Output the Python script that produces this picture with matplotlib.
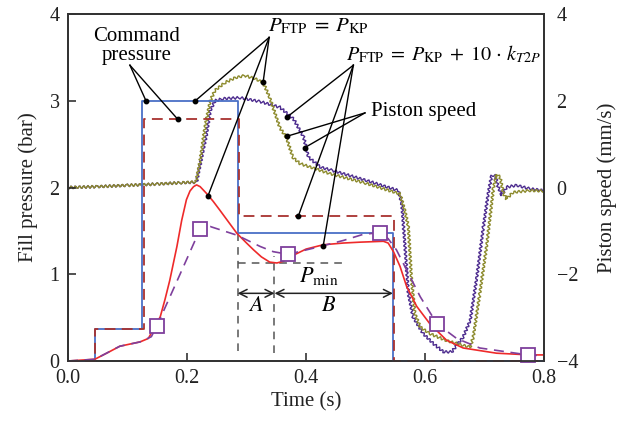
import matplotlib
matplotlib.use('Agg')
import matplotlib.pyplot as plt

# -*- FONT AND COLOUR SETTINGS -*-
plt.rcParams['font.family'] = ['Liberation Serif', 'DejaVu Serif']
plt.rcParams['mathtext.fontset'] = 'stix'
plt.rcParams['font.size'] = 14

ink = '#222222'
cmd_blue = '#4a6fc6'
cmd_red = '#a8322f'
fill_red = '#ee2a2a'
fill_purple = '#7e3f9c'
speed_olive = '#8c8a2c'
speed_purple = '#4c2b8e'
guide_grey = '#555555'

# -*- DATA -*-
# command pressure steps (bar)
cmd_kp_t = [0.0, 0.045, 0.125, 0.285, 0.546, 0.8]
cmd_kp_p = [0.0, 0.37, 3.00, 1.47, 0.0, 0.0]
cmd_k_t = [0.0, 0.045, 0.127, 0.287, 0.548, 0.8]
cmd_k_p = [0.0, 0.37, 2.79, 1.67, 0.0, 0.0]

# measured fill pressure, P_FTP = P_KP (bar)
fill_kp_t = [0.0, 0.045, 0.065, 0.087, 0.121, 0.135, 0.143, 0.155, 0.163, 0.171,
             0.183, 0.191, 0.199, 0.205, 0.211, 0.216, 0.222, 0.233, 0.244, 0.255,
             0.270, 0.284, 0.300, 0.312, 0.325, 0.339, 0.351, 0.362, 0.379, 0.400,
             0.429, 0.463, 0.491, 0.530, 0.538, 0.547, 0.558, 0.569, 0.586, 0.608,
             0.636, 0.664, 0.720, 0.776, 0.800]
fill_kp_p = [0.0, 0.02, 0.09, 0.17, 0.22, 0.26, 0.36, 0.51, 0.71, 0.93,
             1.32, 1.62, 1.86, 1.96, 2.01, 2.03, 2.01, 1.93, 1.84, 1.74,
             1.60, 1.47, 1.36, 1.28, 1.20, 1.14, 1.13, 1.15, 1.22, 1.29,
             1.34, 1.36, 1.37, 1.38, 1.36, 1.26, 1.09, 0.86, 0.63, 0.43,
             0.24, 0.15, 0.09, 0.07, 0.07]

# fill pressure with the k_T2P correction (bar), squares every few samples
fill_k_t = [0.0, 0.045, 0.087, 0.121, 0.140, 0.149, 0.185, 0.222, 0.239, 0.284,
            0.323, 0.345, 0.370, 0.412, 0.463, 0.496, 0.524, 0.538, 0.552, 0.569,
            0.592, 0.620, 0.653, 0.692, 0.773, 0.800]
fill_k_p = [0.0, 0.02, 0.17, 0.22, 0.28, 0.40, 0.95, 1.52, 1.55, 1.45,
            1.32, 1.26, 1.23, 1.30, 1.39, 1.46, 1.48, 1.41, 1.28, 1.05,
            0.74, 0.43, 0.26, 0.15, 0.07, 0.06]
fill_k_marks = [5, 7, 12, 16, 21, 24]

# piston speed (mm/s)
speed_kp_t = [0.0, 0.05, 0.10, 0.15, 0.19, 0.215, 0.222, 0.230, 0.239, 0.247,
              0.264, 0.281, 0.297, 0.314, 0.328, 0.339, 0.356, 0.367, 0.378, 0.390,
              0.440, 0.500, 0.558, 0.566, 0.572, 0.577, 0.583, 0.592, 0.608, 0.636,
              0.664, 0.676, 0.681, 0.692, 0.704, 0.715, 0.720, 0.726, 0.732, 0.737,
              0.748, 0.776, 0.800]
speed_kp_v = [0.0, 0.02, 0.05, 0.08, 0.11, 0.13, 0.62, 1.38, 2.00, 2.24,
              2.42, 2.53, 2.58, 2.51, 2.42, 2.07, 1.38, 1.15, 0.69, 0.55,
              0.32, 0.10, -0.15, -0.53, -0.91, -2.07, -2.91, -3.22, -3.37, -3.53,
              -3.64, -3.68, -3.45, -2.45, -1.30, 0.0, 0.30, 0.24, -0.15, -0.26,
              -0.11, -0.07, -0.08]

speed_k_t = [0.0, 0.05, 0.10, 0.15, 0.19, 0.216, 0.227, 0.233, 0.239, 0.247,
             0.261, 0.289, 0.323, 0.356, 0.379, 0.396, 0.404, 0.424, 0.445, 0.502,
             0.555, 0.561, 0.566, 0.572, 0.580, 0.597, 0.614, 0.631, 0.645, 0.653,
             0.664, 0.676, 0.687, 0.698, 0.706, 0.712, 0.718, 0.723, 0.729, 0.737,
             0.754, 0.776, 0.800]
speed_k_v = [0.0, 0.02, 0.05, 0.08, 0.11, 0.12, 0.85, 1.24, 1.77, 2.00,
             2.05, 2.07, 1.98, 1.85, 1.58, 1.16, 0.70, 0.47, 0.39, 0.16,
             -0.07, -0.38, -1.30, -2.45, -2.99, -3.37, -3.60, -3.79, -3.79, -3.64,
             -3.45, -3.06, -2.07, -0.91, -0.15, 0.28, 0.28, 0.01, -0.18, 0.01,
             0.05, -0.03, -0.07]

# phase boundaries and minimum pressure
t_switch = 0.285
t_pmin = 0.347
t_end = 0.546
p_min = 1.125

# -*- PLOT -*-
fig = plt.figure(figsize=(6.31, 4.26), dpi=100)
ax = fig.add_axes([0.1078, 0.1526, 0.7544, 0.8145])
ax2 = ax.twinx()
ax.set_zorder(ax2.get_zorder() + 1)
ax.patch.set_visible(False)

# piston speed with the pressure-sensor ripple
for t, v, c in [(speed_k_t, speed_k_v, speed_purple),
                (speed_kp_t, speed_kp_v, speed_olive)]:
    line, = ax2.plot(t, v, color=c, lw=1.0)
    line.set_sketch_params(scale=1.3, length=4.2, randomness=1)

# guides for A / B phases and P_min
dash = (0, (5, 4))
ax.plot([t_switch, t_switch], [0.12, 1.47], ls=dash, color=guide_grey, lw=1.1)
ax.plot([t_pmin, t_pmin], [0.09, 1.21], ls=dash, color=guide_grey, lw=1.1)
ax.plot([t_switch, 0.465], [p_min, p_min], ls=dash, color=guide_grey, lw=1.1)

# command pressures
ax.step(cmd_kp_t, cmd_kp_p, where='post', color=cmd_blue, lw=1.3, clip_on=False)
ax.step(cmd_k_t, cmd_k_p, where='post', color=cmd_red, lw=1.3,
        ls=(0, (6, 3.5)), clip_on=False)

# fill pressures
ax.plot(fill_kp_t, fill_kp_p, color=fill_red, lw=1.2, clip_on=False)
ax.plot(fill_k_t, fill_k_p, color=fill_purple, lw=1.2, ls=(0, (6, 4)),
        marker='s', markevery=fill_k_marks, markersize=10,
        markerfacecolor='white', markeredgecolor=fill_purple,
        markeredgewidth=1.3, clip_on=False)

# A and B spans
arrow = dict(arrowstyle='<->', color=ink, lw=1.1, shrinkA=0, shrinkB=0,
             mutation_scale=14)
ax.annotate('', xy=(t_switch, 0.78), xytext=(t_pmin, 0.78), arrowprops=arrow)
ax.annotate('', xy=(t_pmin, 0.78), xytext=(t_end, 0.78), arrowprops=arrow)
ax.text(0.316, 0.63, '$A$', ha='center', va='center', fontsize=16)
ax.text(0.4375, 0.63, '$B$', ha='center', va='center', fontsize=16)
ax.text(0.389, 0.91, r'$P_{\mathrm{min}}$', ha='left', va='baseline', fontsize=16)


def leaders(src, targets):
    # straight leader lines from a label, each ending in a dot
    for tx, ty in targets:
        ax.plot([src[0], tx], [src[1], ty], color='black', lw=1.0, zorder=6)
        ax.plot(tx, ty, 'o', color='black', markersize=3.2, zorder=7)


ax.text(0.116, 3.63, 'Command\npressure', ha='center', va='center',
        fontsize=15, linespacing=1.0)
leaders((0.104, 3.41), [(0.131, 3.00), (0.184, 2.79)])

ax.text(0.336, 3.80, r'$P_{\mathrm{FTP}}\;=\;P_{\mathrm{KP}}$', ha='left',
        va='baseline', fontsize=15)
leaders((0.338, 3.73), [(0.214, 3.00), (0.328, 3.22), (0.235, 1.90)])

ax.text(0.468, 3.47,
        r'$P_{\mathrm{FTP}}\;=\;P_{\mathrm{KP}}\;+\;10\,\cdot\,k_{T2P}$',
        ha='left', va='baseline', fontsize=14.5)
leaders((0.4795, 3.41), [(0.3676, 2.81), (0.387, 1.67), (0.429, 1.33)])

ax.text(0.509, 2.82, 'Piston speed', ha='left', va='baseline', fontsize=15)
leaders((0.499, 2.86), [(0.3676, 2.59), (0.398, 2.46)])

# axes
ax.set_xlim(0, 0.8)
ax.set_ylim(0, 4)
ax2.set_ylim(-4, 4)
ax.set_xticks([0.0, 0.2, 0.4, 0.6, 0.8])
ax.set_xticklabels(['0.0', '0.2', '0.4', '0.6', '0.8'])
ax.set_yticks([0, 1, 2, 3, 4])
ax2.set_yticks([-4, -2, 0, 2, 4])
ax2.set_yticklabels(['\u22124', '\u22122', '0', '2', '4'])
ax.tick_params(direction='in', length=6, width=1.1, color=ink, labelcolor=ink,
               pad=6, labelsize=14.5)
ax2.tick_params(direction='in', length=0, labelcolor=ink, pad=9, labelsize=14.5)
for a in (ax, ax2):
    for s in a.spines.values():
        s.set_color('#333333')
        s.set_linewidth(1.3)

ax.set_xlabel('Time (s)', fontsize=15, color=ink, labelpad=3)
ax.set_ylabel('Fill pressure (bar)', fontsize=15, color=ink, labelpad=8)
ax2.set_ylabel('Piston speed (mm/s)', fontsize=15, color=ink, labelpad=14)

fig.savefig('out.png', dpi=100, facecolor='white')
